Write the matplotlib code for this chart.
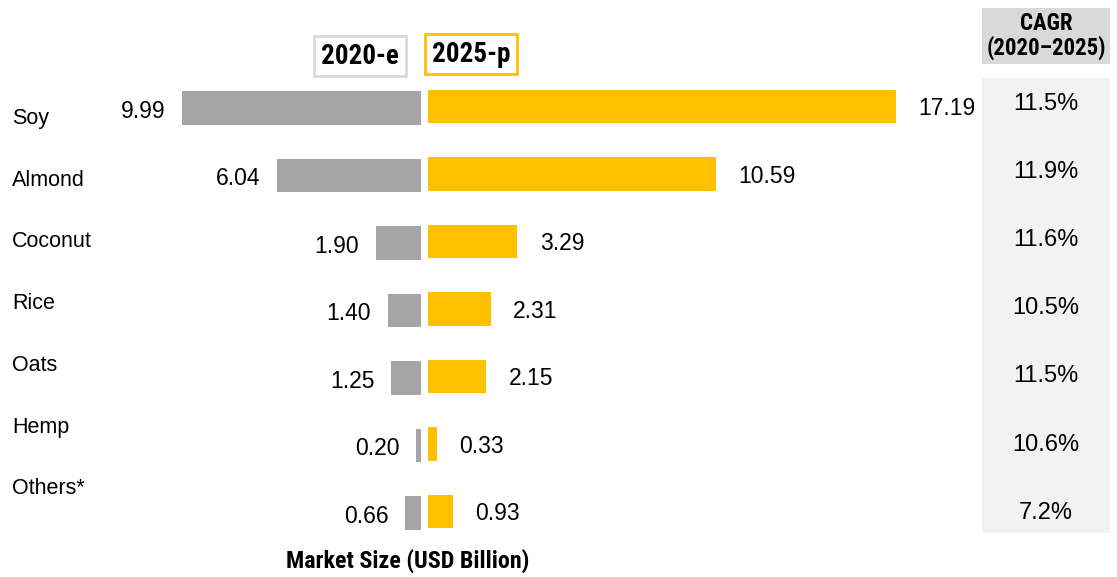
import numpy as np
import matplotlib.pyplot as plt
from matplotlib import font_manager

categories = ["Soy", "Almond", "Coconut", "Rice", "Oats", "Hemp", "Others*"]
size_2020 = [9.99, 6.04, 1.90, 1.40, 1.25, 0.20, 0.66]
size_2025 = [17.19, 10.59, 3.29, 2.31, 2.15, 0.33, 0.93]
cagr = ["11.5%", "11.9%", "11.6%", "10.5%", "11.5%", "10.6%", "7.2%"]

GREY = "#a5a5a5"
GOLD = "#ffc000"
W, H = 1117, 577

installed = {f.name for f in font_manager.fontManager.ttflist}
plain = ["Liberation Sans", "DejaVu Sans"]
narrow = [f for f in ["Liberation Sans Narrow", "Roboto Condensed", "DejaVu Sans Condensed",
                      "Roboto"] if f in installed][:1] + ["DejaVu Sans"]


def box(x0, y0, x1, y1):
    # pixel box (top-left origin) -> figure fraction rect
    return [x0 / W, 1 - y1 / H, (x1 - x0) / W, (y1 - y0) / H]


fig = plt.figure(figsize=(W / 100, H / 100), dpi=100)
y = np.arange(len(categories))

# bar rows: centre of row i sits at 108 + 67.5*i px
top_px, bot_px = 74, 545
ylim = ((bot_px - 108) / 67.5, (top_px - 108) / 67.5)

ax_l = fig.add_axes(box(120, top_px, 421, bot_px))
ax_r = fig.add_axes(box(428, top_px - 1.5, 978, bot_px - 1.5))
ax_l.barh(y, size_2020, height=0.49, color=GREY)
ax_r.barh(y, size_2025, height=0.49, color=GOLD)
ax_l.set_xlim(301 / 23.9, 0)
ax_r.set_xlim(0, 550 / 27.2)
for ax in (ax_l, ax_r):
    ax.set_ylim(*ylim)
    ax.axis("off")

for i, v in enumerate(size_2020):
    ax_l.annotate(f"{v:.2f}", (v, i), xytext=(-12, -2.5), textcoords="offset points",
                  ha="right", va="center", fontsize=16.5, family=plain)
for i, v in enumerate(size_2025):
    ax_r.annotate(f"{v:.2f}", (v, i), xytext=(16, -1.5), textcoords="offset points",
                  ha="left", va="center", fontsize=16.5, family=plain)

# category names down the left edge
for i, c in enumerate(categories):
    fig.text(12 / W, 1 - (118.5 + 61.7 * i) / H, c, ha="left", va="center",
             fontsize=15.5, family=plain)

# CAGR column
ax_h = fig.add_axes(box(982, 8, 1110, 64))
ax_h.set_facecolor("#d9d9d9")
ax_h.set_xticks([])
ax_h.set_yticks([])
for s in ax_h.spines.values():
    s.set_visible(False)
ax_h.text(0.5, 0.5, "CAGR\n(2020\u20132025)", ha="center", va="center",
          fontsize=16.5, fontweight="bold", family=narrow, linespacing=1.0)

ax_c = fig.add_axes(box(982, 78, 1110, 533))
ax_c.set_facecolor("#f2f2f2")
ax_c.set_xticks([])
ax_c.set_yticks([])
for s in ax_c.spines.values():
    s.set_visible(False)
ax_c.set_xlim(0, 1)
ax_c.set_ylim((533 - 104) / 68.1, (78 - 104) / 68.1)
for i, t in enumerate(cagr):
    ax_c.text(0.5, i, t, ha="center", va="center", fontsize=17, family=plain)

# legend tags
fig.text(360 / W, 1 - 56 / H, "2020-e", ha="center", va="center", fontsize=19.5,
         fontweight="bold", family=narrow,
         bbox=dict(boxstyle="square,pad=0.25", fc="white", ec="#d9d9d9", lw=2))
fig.text(471 / W, 1 - 54 / H, "2025-p", ha="center", va="center", fontsize=19.5,
         fontweight="bold", family=narrow,
         bbox=dict(boxstyle="square,pad=0.25", fc="white", ec=GOLD, lw=2))

fig.text(408 / W, 1 - 561 / H, "Market Size (USD Billion)", ha="center",
         va="center", fontsize=17.3, fontweight="bold", family=narrow)

fig.savefig("out.png", dpi=100)
